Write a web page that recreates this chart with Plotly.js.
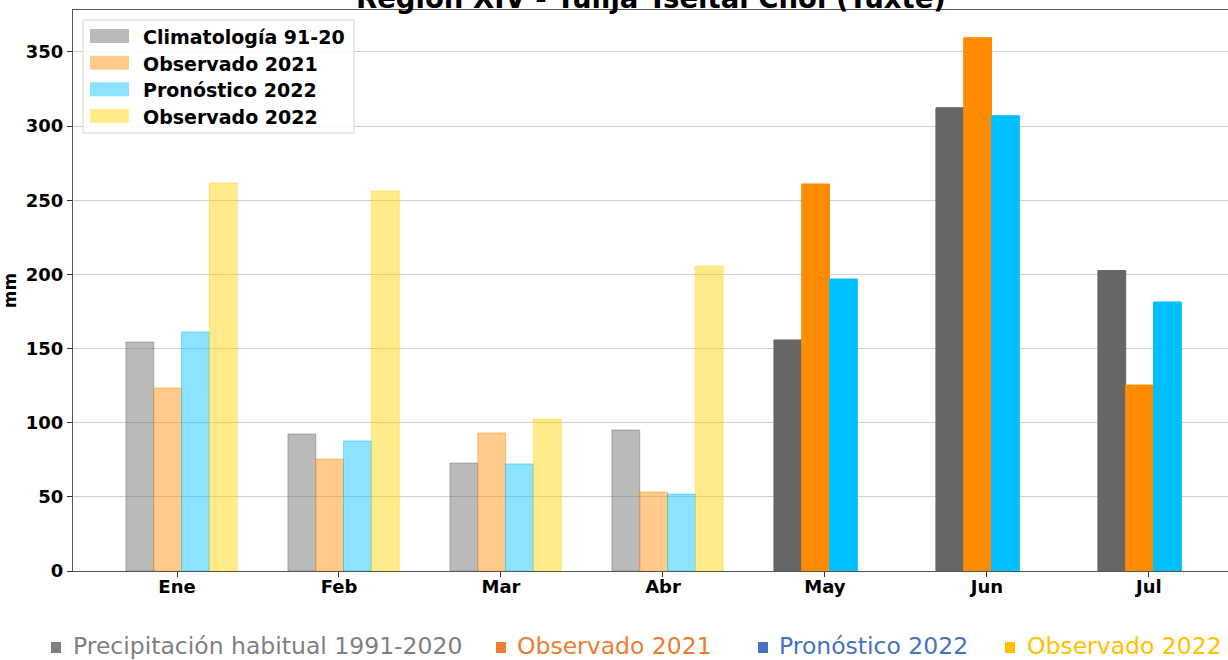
<!DOCTYPE html>
<html>
<head>
<meta charset="utf-8">
<script src="https://cdn.plot.ly/plotly-3.0.1.min.js"></script>
<style>html,body{margin:0;padding:0;background:#fff;}#chart{width:1228px;height:660px;}</style>
</head>
<body>
<div id="chart"></div>
<script>
// ---- data ----
const months = ['Ene', 'Feb', 'Mar', 'Abr', 'May', 'Jun', 'Jul'];
const climatologia = [154.4, 92.4, 72.8, 95.1, 155.8, 312.4, 202.6];
const observado2021 = [123.4, 75.5, 93.1, 53.3, 261.0, 359.6, 125.4];
const pronostico2022 = [161.2, 87.7, 72.2, 51.9, 196.9, 307.0, 181.4];
const observado2022 = [261.6, 256.3, 102.5, 205.7, null, null, null];
const seriesNames = ['Climatología 91-20', 'Observado 2021', 'Pronóstico 2022', 'Observado 2022'];
const footerLabels = ['Precipitación habitual 1991-2020', 'Observado 2021', 'Pronóstico 2022', 'Observado 2022'];
const yTicks = [0, 50, 100, 150, 200, 250, 300, 350];
const titleText = 'Región XIV - Tulijá Tseltal Chol (Tuxte)';

// ---- style ----
const W = 1228, H = 660, ML = 73, MR = 0, MT = 10, MB = 89;
const PW = W - ML - MR, PH = H - MT - MB;
const px = x => (x - ML) / PW;
const py = y => 1 - (y - MT) / PH;
const baseRGB = ['102,102,102', '255,140,0', '0,191,255', '255,208,0'];
const FADE_ALPHA = 0.45;
const FADED_MONTHS = 4; // first months drawn faded
const footerColors = ['#7f7f7f', '#ed7d31', '#4472c4', '#ffc000'];
const barWidth = 0.1716;
const offsets = [-0.315, -0.1434, 0.0282, 0.1998];
const seriesValues = [climatologia, observado2021, pronostico2022, observado2022];

const colorFor = (s, i) => i < FADED_MONTHS ? `rgba(${baseRGB[s]},${FADE_ALPHA})` : `rgb(${baseRGB[s]})`;

const traces = seriesValues.map((vals, s) => ({
  type: 'bar',
  name: seriesNames[s],
  x: months.map((_, i) => i),
  y: vals,
  width: barWidth,
  offset: offsets[s],
  marker: {
    color: vals.map((_, i) => colorFor(s, i)),
    line: {color: vals.map((_, i) => colorFor(s, i)), width: 1}
  },
  showlegend: false,
  hoverinfo: 'skip'
}));

const shapes = [];
const annotations = [];

// in-plot legend (matplotlib-style)
shapes.push({type: 'rect', xref: 'paper', yref: 'paper', x0: px(83), x1: px(354), y0: py(133), y1: py(20),
  line: {color: '#d6d6d6', width: 1}, fillcolor: 'rgba(255,255,255,0.85)', layer: 'above'});
const rowY = [36, 62.7, 89.3, 116];
seriesNames.forEach((n, s) => {
  shapes.push({type: 'rect', xref: 'paper', yref: 'paper', x0: px(90), x1: px(129), y0: py(rowY[s] + 7), y1: py(rowY[s] - 7),
    line: {width: 0}, fillcolor: `rgba(${baseRGB[s]},${FADE_ALPHA})`, layer: 'above'});
  annotations.push({xref: 'paper', yref: 'paper', x: px(141), y: py(rowY[s] + 1), xanchor: 'left', yanchor: 'middle',
    text: n, showarrow: false, font: {family: 'DejaVu Sans', size: 19, color: '#000', weight: 'bold'}});
});

// footer legend (Excel-style, outside plot)
const footerSq = [51, 496, 758, 1005];
const footerTx = [73, 517, 779, 1027];
footerLabels.forEach((n, s) => {
  shapes.push({type: 'rect', xref: 'paper', yref: 'paper', x0: px(footerSq[s]), x1: px(footerSq[s] + 10), y0: py(653), y1: py(642),
    line: {width: 0}, fillcolor: footerColors[s]});
  annotations.push({xref: 'paper', yref: 'paper', x: px(footerTx[s] - 2), y: py(645.5), xanchor: 'left', yanchor: 'middle',
    text: n, showarrow: false, font: {family: 'DejaVu Sans', size: 23.5, color: footerColors[s]}});
});

// title (cropped at the top of the picture)
annotations.push({xref: 'paper', yref: 'paper', x: 0.5, y: py(16), xanchor: 'center', yanchor: 'bottom',
  text: titleText, showarrow: false, font: {family: 'DejaVu Sans', size: 27.5, color: '#000', weight: 'bold'}});

const layout = {
  width: W, height: H,
  margin: {l: ML, r: MR, t: MT, b: MB, pad: 0},
  paper_bgcolor: '#fff', plot_bgcolor: '#fff',
  barmode: 'overlay',
  showlegend: false,
  xaxis: {
    range: [-0.642, 6.488],
    tickvals: months.map((_, i) => i), ticktext: months,
    ticks: 'outside', ticklen: 5, tickcolor: '#333', tickwidth: 1,
    ticklabelstandoff: -6,
    showline: true, linecolor: '#555', linewidth: 1, mirror: true,
    showgrid: false, zeroline: false,
    tickfont: {family: 'DejaVu Sans', size: 18, color: '#000', weight: 'bold'}
  },
  yaxis: {
    range: [0, 378.3],
    tickvals: yTicks,
    ticks: 'outside', ticklen: 5, tickcolor: '#333', tickwidth: 1,
    showline: true, linecolor: '#555', linewidth: 1,
    showgrid: true, gridcolor: '#d0d0d0', gridwidth: 1, zeroline: false,
    tickfont: {family: 'DejaVu Sans', size: 18, color: '#000', weight: 'bold'},
    title: {text: 'mm', standoff: 8, font: {family: 'DejaVu Sans', size: 17, color: '#000', weight: 'bold'}}
  },
  shapes: shapes,
  annotations: annotations
};

Plotly.newPlot('chart', traces, layout, {displayModeBar: false, staticPlot: true});
</script>
</body>
</html>
